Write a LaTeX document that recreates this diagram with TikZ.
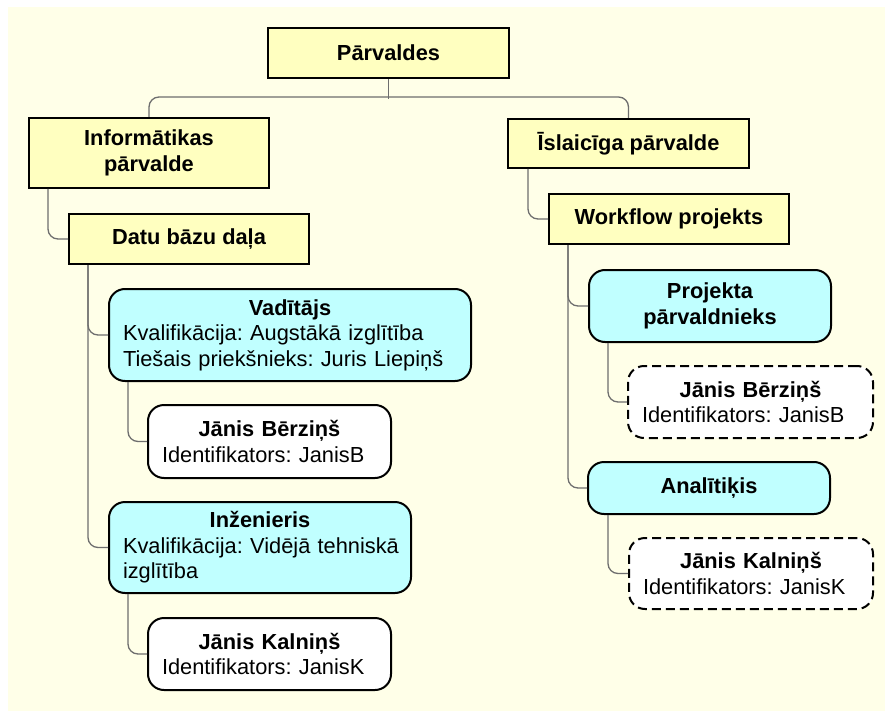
\documentclass[tikz,border=0pt]{standalone}
\usepackage{fontspec}
\setmainfont{Liberation Sans}

\definecolor{paper}{RGB}{255,255,232}
\definecolor{orgfill}{RGB}{255,255,192}
\definecolor{rolefill}{RGB}{192,255,255}
\definecolor{linkgray}{RGB}{110,110,110}

\newcommand{\chartfont}{\fontsize{21.8}{25.5}\selectfont\frenchspacing}
\newcommand{\card}[2]{{\centering\bfseries #1\par}\noindent #2}

\tikzset{
    orgbox/.style={draw, line width=2pt, fill=orgfill, font=\chartfont\bfseries,
        align=center, anchor=north west, inner sep=0pt},
    rolebox/.style={draw, line width=2pt, rounded corners=16pt, fill=rolefill,
        font=\chartfont, align=left, anchor=north west, inner xsep=14pt, inner ysep=0pt},
    personbox/.style={rolebox, fill=white},
    guestbox/.style={personbox, dash pattern=on 9pt off 5pt},
    link/.style={draw=linkgray, line width=1.3pt, rounded corners=10pt}
}

\begin{document}
\begin{tikzpicture}[x=1pt, y=-1pt]

    % ==========================================
    % Page and background
    % ==========================================
    \useasboundingbox (0,0) rectangle (885,711);
    \fill[white] (0,0) rectangle (885,711);
    \fill[paper] (8,7) rectangle (885,711);

    % ==========================================
    % Organisational units
    % ==========================================
    \node[orgbox, minimum width=241pt, minimum height=50pt] (top) at (267,27) {Pārvaldes};
    \node[orgbox, minimum width=240pt, minimum height=70pt] (infoadm) at (28,117) {Informātikas\\pārvalde};
    \node[orgbox, minimum width=241pt, minimum height=49pt] (tempadm) at (507,118) {Īslaicīga pārvalde};
    \node[orgbox, minimum width=240pt, minimum height=50pt] (dbdept) at (68,213) {Datu bāzu daļa};
    \node[orgbox, minimum width=240pt, minimum height=50pt] (workflow) at (548,193) {Workflow projekts};

    % ==========================================
    % Roles (left branch)
    % ==========================================
    \node[rolebox, text width=334pt, minimum height=92pt] (manager) at (108,288)
        {\card{Vadītājs}{Kvalifikācija: Augstākā izglītība\\Tiešais priekšnieks: Juris Liepiņš}};
    \node[personbox, text width=215pt, minimum height=73pt] (berzins) at (147,404)
        {\card{Jānis Bērziņš}{Identifikators: JanisB}};
    \node[rolebox, text width=274pt, minimum height=91pt] (engineer) at (108,501)
        {\card{Inženieris}{\mbox{Kvalifikācija: Vidējā tehniskā}\\izglītība}};
    \node[personbox, text width=215pt, minimum height=72pt] (kalnins) at (147,617)
        {\card{Jānis Kalniņš}{Identifikators: JanisK}};

    % ==========================================
    % Roles (right branch)
    % ==========================================
    \node[rolebox, align=center, font=\chartfont\bfseries, text width=214pt, minimum height=72pt] (pm) at (588,269)
        {Projekta\\pārvaldnieks};
    \node[guestbox, text width=217pt, minimum height=72pt] (berzinsB) at (627,365)
        {\card{Jānis Bērziņš}{Identifikators: JanisB}};
    \node[rolebox, align=center, font=\chartfont\bfseries, text width=214pt, minimum height=52pt] (analyst) at (587,461)
        {Analītiķis};
    \node[guestbox, text width=216pt, minimum height=71pt] (kalninsB) at (628,537)
        {\card{Jānis Kalniņš}{Identifikators: JanisK}};

    % ==========================================
    % Connectors
    % ==========================================
    \draw[link] (top.south) -- ++(0,20);
    \draw[link] (infoadm.north) -- ++(0,-20) -| (tempadm.north);
    \draw[link] ([xshift=20pt]infoadm.south west) |- (dbdept.west);
    \draw[link] ([xshift=20pt]dbdept.south west) |- (manager.west);
    \draw[link] ([xshift=20pt]dbdept.south west) |- (engineer.west);
    \draw[link] ([xshift=20pt]manager.south west) |- (berzins.west);
    \draw[link] ([xshift=20pt]engineer.south west) |- (kalnins.west);
    \draw[link] ([xshift=21pt]tempadm.south west) |- (workflow.west);
    \draw[link] ([xshift=20pt]workflow.south west) |- (pm.west);
    \draw[link] ([xshift=20pt]workflow.south west) |- (analyst.west);
    \draw[link] ([xshift=20pt]pm.south west) |- (berzinsB.west);
    \draw[link] ([xshift=21pt]analyst.south west) |- (kalninsB.west);

\end{tikzpicture}
\end{document}
